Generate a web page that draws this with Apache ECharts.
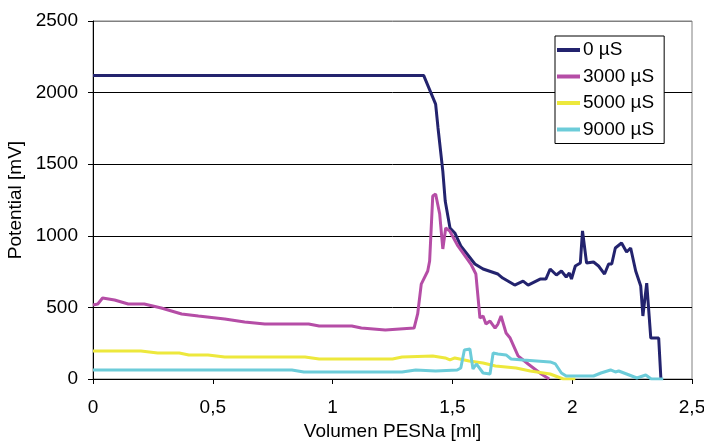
<!DOCTYPE html>
<html>
<head>
<meta charset="utf-8">
<script src="https://cdn.jsdelivr.net/npm/echarts@6/dist/echarts.min.js"></script>
<style>
html,body{margin:0;padding:0;background:#fff;}
#chart{width:704px;height:442px;}
</style>
</head>
<body>
<div id="chart"></div>
<script>
// ---- data ----
var seriesNames = ['0 µS', '3000 µS', '5000 µS', '9000 µS'];

var x0 = [0, 1.38, 1.43, 1.44, 1.46, 1.47, 1.49, 1.51, 1.535, 1.594, 1.628, 1.69, 1.71, 1.76, 1.795, 1.816, 1.866, 1.89, 1.908, 1.934, 1.955, 1.975, 1.988, 1.997, 2.013, 2.034, 2.043, 2.06, 2.089, 2.11, 2.135, 2.152, 2.165, 2.18, 2.206, 2.227, 2.244, 2.265, 2.286, 2.295, 2.311, 2.328, 2.361, 2.37];
var y0 = [2120, 2120, 1920, 1753, 1452, 1243, 1054, 1020, 929, 803, 768, 733, 705, 656, 684, 656, 698, 698, 768, 726, 754, 712, 740, 698, 789, 810, 1034, 810, 817, 789, 733, 803, 803, 915, 950, 887, 915, 754, 649, 440, 670, 286, 286, 7];

var x3000 = [0, 0.02, 0.04, 0.09, 0.147, 0.214, 0.285, 0.37, 0.44, 0.55, 0.633, 0.717, 0.90, 0.944, 1.08, 1.12, 1.22, 1.34, 1.355, 1.37, 1.397, 1.405, 1.418, 1.43, 1.447, 1.46, 1.472, 1.489, 1.523, 1.577, 1.598, 1.615, 1.628, 1.64, 1.657, 1.678, 1.69, 1.703, 1.724, 1.741, 1.774, 1.816, 1.871, 1.904];
var y3000 = [517, 524, 566, 552, 524, 524, 496, 454, 440, 419, 398, 384, 384, 370, 370, 356, 342, 356, 454, 663, 754, 824, 1278, 1292, 1152, 908, 1054, 1034, 929, 803, 733, 426, 440, 384, 405, 356, 384, 440, 321, 286, 161, 105, 35, 0];

var x5000 = [0, 0.2, 0.27, 0.36, 0.40, 0.48, 0.55, 0.885, 0.944, 1.25, 1.29, 1.418, 1.47, 1.49, 1.51, 1.57, 1.628, 1.68, 1.766, 1.825, 1.908, 1.963, 2.013];
var y5000 = [196, 196, 182, 182, 168, 168, 154, 154, 140, 140, 154, 161, 147, 133, 147, 126, 112, 91, 77, 56, 35, 0, 0];

var x9000 = [0, 0.83, 0.88, 1.29, 1.347, 1.43, 1.52, 1.535, 1.55, 1.573, 1.586, 1.60, 1.628, 1.657, 1.67, 1.69, 1.724, 1.745, 1.795, 1.908, 1.93, 1.955, 1.975, 2.089, 2.12, 2.16, 2.18, 2.194, 2.227, 2.27, 2.307, 2.33, 2.38];
var y9000 = [63, 63, 49, 49, 63, 56, 63, 77, 203, 210, 70, 105, 42, 35, 182, 175, 168, 140, 133, 119, 105, 42, 21, 21, 42, 63, 49, 56, 35, 7, 28, 0, 0];

var xTickLabels = ['0', '0,5', '1', '1,5', '2', '2,5'];
var yTickLabels = ['0', '500', '1000', '1500', '2000', '2500'];

// ---- chart ----
function pairs(xs, ys) { return xs.map(function (x, i) { return [x, ys[i]]; }); }
var colors = ['#23236E', '#B54DA6', '#EDE83C', '#6CCCD9'];
var FONT = 'Liberation Sans, Arial, sans-serif';
var allX = [x0, x3000, x5000, x9000];
var allY = [y0, y3000, y5000, y9000];

var chart = echarts.init(document.getElementById('chart'), null, {renderer: 'canvas'});
chart.setOption({
  animation: false,
  backgroundColor: '#fff',
  color: colors,
  grid: {left: 93, right: 12, top: 21, bottom: 63, show: true, borderColor: '#808080', borderWidth: 1,
    backgroundColor: 'transparent', containLabel: false, outerBoundsMode: 'none'},
  legend: {
    orient: 'vertical', left: 555, top: 36,
    backgroundColor: '#fff', borderColor: '#000', borderWidth: 1,
    padding: [4, 10, 4, 2], itemWidth: 23, itemHeight: 4, itemGap: 6.5,
    icon: 'rect',
    textStyle: {fontFamily: FONT, fontSize: 19, color: '#000', lineHeight: 20, padding: [0, 0, 0, -2]},
    data: seriesNames
  },
  xAxis: {
    type: 'value', min: 0, max: 2.5, interval: 0.5,
    name: 'Volumen PESNa [ml]', nameLocation: 'middle', nameGap: 43,
    nameTextStyle: {fontFamily: FONT, fontSize: 19, color: '#000'},
    axisLine: {show: true, lineStyle: {color: '#000', width: 1}},
    axisTick: {show: true, length: 5, lineStyle: {color: '#000'}},
    axisLabel: {fontFamily: FONT, fontSize: 19, color: '#000', margin: 19,
      formatter: function (v) { return xTickLabels[Math.round(v / 0.5)]; }},
    splitLine: {show: false}
  },
  yAxis: {
    type: 'value', min: 0, max: 2500, interval: 500,
    name: 'Potential [mV]', nameLocation: 'middle', nameGap: 57, nameRotate: 90,
    nameTextStyle: {fontFamily: FONT, fontSize: 19, color: '#000'},
    axisLine: {show: true, lineStyle: {color: '#000', width: 1}},
    axisTick: {show: true, length: 5, lineStyle: {color: '#000'}},
    axisLabel: {fontFamily: FONT, fontSize: 19, color: '#000', margin: 15,
      formatter: function (v) { return yTickLabels[Math.round(v / 500)]; }},
    splitLine: {show: true, lineStyle: {color: ['#000', '#000', '#000', '#000', '#000', '#808080'], width: 1}}
  },
  series: seriesNames.map(function (n, i) {
    return {
      name: n, type: 'line', data: pairs(allX[i], allY[i]),
      showSymbol: false, symbol: 'none',
      lineStyle: {width: 3, color: colors[i]},
      itemStyle: {color: colors[i]},
      z: 2 + i
    };
  })
});
</script>
</body>
</html>
